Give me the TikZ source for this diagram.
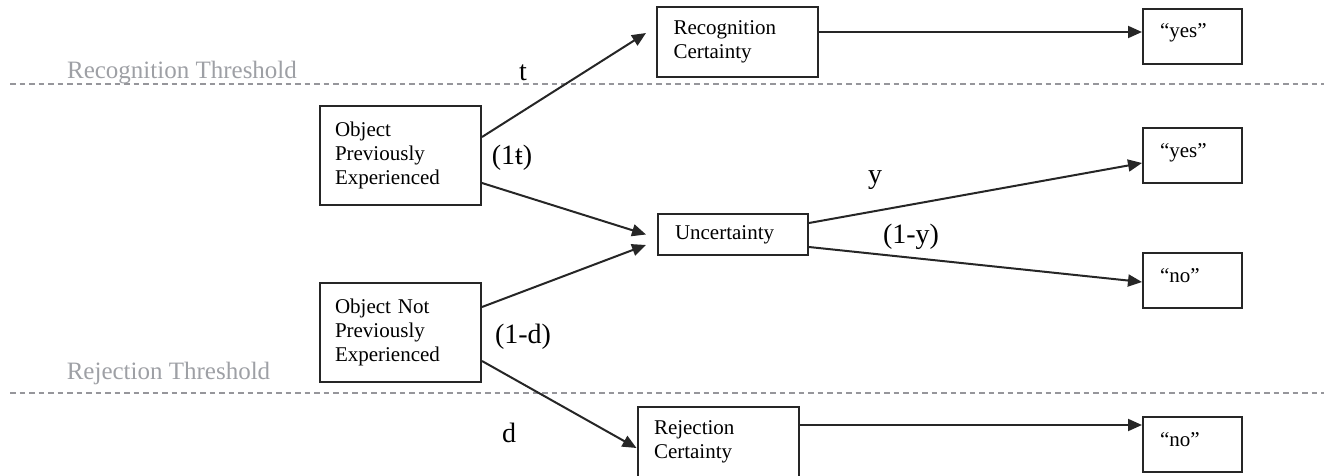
\documentclass[tikz,border=0pt]{standalone}
\usepackage{fontspec}
\setmainfont{Liberation Serif}
\usetikzlibrary{arrows.meta}
\definecolor{thrgray}{RGB}{158,160,165}
\definecolor{dashgray}{RGB}{150,150,155}

\begin{document}
\begin{tikzpicture}[x=0.5pt,y=-0.5pt,
		box/.style={draw=black!85,line width=1pt,align=left,font=\fontsize{10.5}{11.8}\selectfont},
		objbox/.style={box,text width=65.5pt,inner xsep=7.5pt,minimum height=49.5pt},
		certbox/.style={box,text width=64pt,inner xsep=8.25pt,minimum height=35pt},
		outbox/.style={box,text width=32.5pt,inner xsep=8.5pt,inner ysep=4pt,text height=10.5pt,text depth=9pt},
		link/.style={line width=1pt,black!85,-{Triangle[length=7pt,width=6pt]}},
		lbl/.style={font=\fontsize{14}{16}\selectfont,inner sep=0pt},
		thr/.style={font=\fontsize{12.5}{14}\selectfont,text=thrgray,inner sep=0pt},
		threshold/.style={dashgray,line width=0.7pt,dash pattern=on 2.75pt off 2pt}]
	\useasboundingbox (0,0) rectangle (1324,476);

	% thresholds
	\draw[threshold] (10,84) -- (1324,84);
	\draw[threshold] (10,393) -- (1324,393);
	\node[thr] (recthr) at (182,73) {Recognition Threshold};
	\node[thr] (rejthr) at (168.5,373) {Rejection Threshold};

	\node[objbox] (prev) at (400.5,155.5) {Object\\Previously\\Experienced};
	\node[objbox] (notprev) at (400.5,332.5) {Object Not\\Previously\\Experienced};

	\node[certbox] (recog) at (737.5,42) {Recognition\\Certainty};
	\node[box,text width=58pt,inner xsep=8.5pt,minimum height=20.5pt] (uncert) at (733,234.5) {Uncertainty};
	\node[certbox] (reject) at (718,442) {Rejection\\Certainty};

	\node[outbox] (yesa) at (1192.5,36.5) {“yes”};
	\node[outbox] (yesb) at (1192.5,156) {“yes”};
	\node[outbox] (noa) at (1192.5,280.5) {“no”};
	\node[outbox] (nob) at (1192.5,444.5) {“no”};

	\draw[link] ([yshift=9.25pt]prev.east) -- ([xshift=-5pt,yshift=4.5pt]recog.west);
	\draw[link] ([yshift=-13.75pt]prev.east) -- ([xshift=-5.5pt]uncert.west);
	\draw[link] ([yshift=12.75pt]notprev.east) -- ([xshift=-5.5pt,yshift=-5.25pt]uncert.west);
	\draw[link] ([yshift=-14.25pt]notprev.east) -- ([yshift=-3pt]reject.west);

	\draw[link] ([yshift=5pt]recog.east) -- ([yshift=5pt]recog.east -| yesa.west);
	\draw[link] ([yshift=5.75pt]uncert.east) -- ([yshift=-3.5pt]yesb.west);
	\draw[link] ([yshift=-6.25pt]uncert.east) -- ([yshift=-0.75pt]noa.west);
	\draw[link] ([yshift=8.5pt]reject.east) -- ([yshift=8.5pt]reject.east -| nob.west);

	\node[lbl] (pt) at (523,73) {t};
	\node[lbl] (pnt) at (512,158) {(1ŧ)};
	\node[lbl] (py) at (875,180) {y};
	\node[lbl] (pny) at (911,237) {(1-y)};
	\node[lbl] (pnd) at (523,337) {(1-d)};
	\node[lbl] (pd) at (509,433) {d};
\end{tikzpicture}
\end{document}
